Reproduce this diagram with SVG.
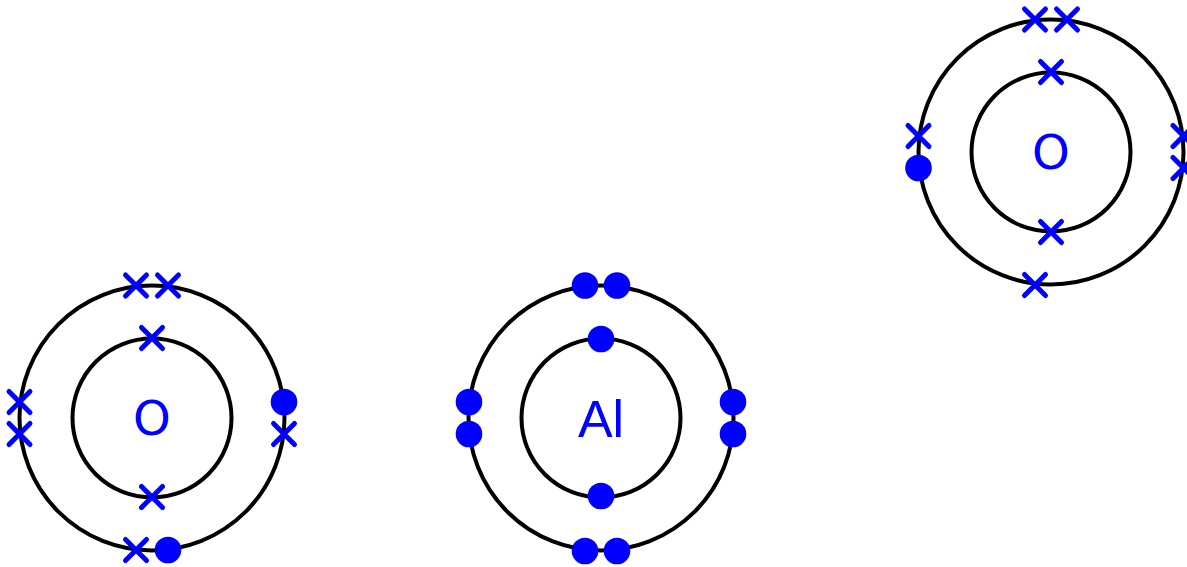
<svg xmlns="http://www.w3.org/2000/svg" width="1187" height="567" viewBox="0 0 1187 567">
<style>
.shell{fill:none;stroke:#000;stroke-width:4}
.x{fill:none;stroke:#00f;stroke-width:5;stroke-linecap:round}
.dot{fill:#00f}
.sym{fill:#00f;font-family:"DejaVu Sans",sans-serif;font-size:48px;text-anchor:middle}
.sym2{fill:#00f;font-family:"Liberation Sans",sans-serif;font-size:52px;text-anchor:middle}
</style>
<defs>
<path id="x" class="x" d="M-10.500-10.500L10.500 10.500M-10.500 10.500L10.500-10.500"/>
<circle id="d" class="dot" r="13.300"/>
</defs>
<rect width="1187" height="567" fill="#fff"/>
<g id="atom-o-left">
<circle class="shell" cx="152" cy="418" r="79.500"/>
<circle class="shell" cx="152" cy="418" r="132.500"/>
<text class="sym" x="152" y="435">O</text>
<use href="#x" x="136" y="285.500"/>
<use href="#x" x="168" y="285.500"/>
<use href="#x" x="152" y="338"/>
<use href="#x" x="152" y="497"/>
<use href="#x" x="19.500" y="402"/>
<use href="#x" x="19.500" y="434"/>
<use href="#d" x="284" y="402"/>
<use href="#x" x="284" y="434"/>
<use href="#x" x="136" y="550"/>
<use href="#d" x="168" y="550"/>
</g>
<g id="atom-al">
<circle class="shell" cx="601" cy="418" r="79.500"/>
<circle class="shell" cx="601" cy="418" r="132.500"/>
<text class="sym2" x="601" y="437">Al</text>
<use href="#d" x="585" y="285.500"/>
<use href="#d" x="617" y="285.500"/>
<use href="#d" x="601" y="339"/>
<use href="#d" x="601" y="496"/>
<use href="#d" x="469" y="402"/>
<use href="#d" x="469" y="434"/>
<use href="#d" x="733" y="402"/>
<use href="#d" x="733" y="434"/>
<use href="#d" x="585" y="551"/>
<use href="#d" x="617" y="551"/>
</g>
<g id="atom-o-right">
<circle class="shell" cx="1051" cy="152" r="79.500"/>
<circle class="shell" cx="1051" cy="152" r="132.500"/>
<text class="sym" x="1051" y="169">O</text>
<use href="#x" x="1035" y="19.500"/>
<use href="#x" x="1067" y="19.500"/>
<use href="#x" x="1051" y="72"/>
<use href="#x" x="1051" y="232"/>
<use href="#x" x="918.500" y="136"/>
<use href="#d" x="918.500" y="168"/>
<use href="#x" x="1183.500" y="136"/>
<use href="#x" x="1183.500" y="168"/>
<use href="#x" x="1035" y="285"/>
</g>
<g id="connectors"/>
</svg>
